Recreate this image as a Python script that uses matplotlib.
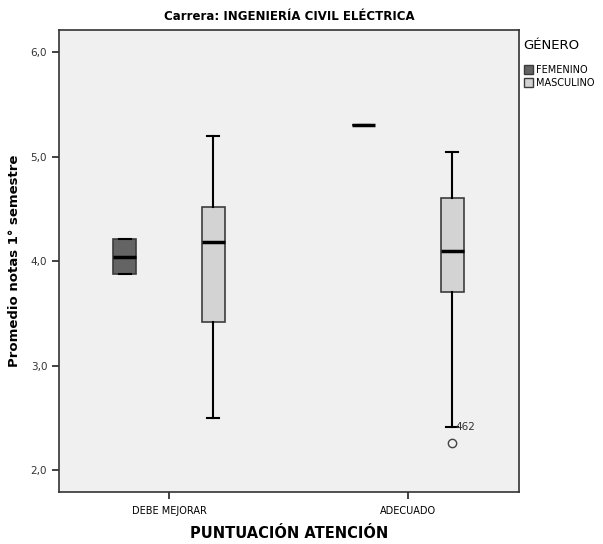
import matplotlib
matplotlib.use("Agg")
import matplotlib.pyplot as plt
from matplotlib.patches import Patch

# data
categories = ["DEBE MEJORAR", "ADECUADO"]
groups = ["FEMENINO", "MASCULINO"]

fem_whislo = [3.875, 5.30]
fem_q1 = [3.875, 5.30]
fem_med = [4.04, 5.30]
fem_q3 = [4.21, 5.30]
fem_whishi = [4.21, 5.30]
fem_fliers = [[], []]

masc_whislo = [2.50, 2.41]
masc_q1 = [3.42, 3.70]
masc_med = [4.18, 4.10]
masc_q3 = [4.52, 4.60]
masc_whishi = [5.20, 5.04]
masc_fliers = [[], [2.26]]
outlier_ids = [[], ["462"]]

colors = {"FEMENINO": "#646464", "MASCULINO": "#d3d3d3"}


def make_stats(lo, q1, med, q3, hi, fl):
    return [dict(whislo=a, q1=b, med=c, q3=d, whishi=e, fliers=f)
            for a, b, c, d, e, f in zip(lo, q1, med, q3, hi, fl)]


fig = plt.figure(figsize=(6.03, 5.44), dpi=100)
ax = fig.add_axes([0.0978, 0.0956, 0.763, 0.849])
ax.set_facecolor("#f0f0f0")

offset = 0.185
width = 0.096
series = [
    ("FEMENINO", make_stats(fem_whislo, fem_q1, fem_med, fem_q3, fem_whishi, fem_fliers), -offset),
    ("MASCULINO", make_stats(masc_whislo, masc_q1, masc_med, masc_q3, masc_whishi, masc_fliers), offset),
]
for name, stats, off in series:
    pos = [i + off for i in range(len(categories))]
    ax.bxp(stats, positions=pos, widths=width, patch_artist=True,
           capwidths=0.05, manage_ticks=False,
           boxprops=dict(facecolor=colors[name], edgecolor="#3c3c3c", linewidth=1.2),
           medianprops=dict(color="black", linewidth=2.5),
           whiskerprops=dict(color="black", linewidth=1.5),
           capprops=dict(color="black", linewidth=1.5),
           flierprops=dict(marker="o", markerfacecolor="none",
                           markeredgecolor="#444444", markersize=6))
    if name == "MASCULINO":
        for i, ids in enumerate(outlier_ids):
            for lab in ids:
                ax.text(i + off + 0.012, masc_whislo[i], lab, fontsize=7.5,
                        color="#333333", va="center", ha="left")

ax.set_xlim(-0.46, 1.464)
ax.set_ylim(1.79, 6.21)
ax.set_xticks(range(len(categories)))
ax.set_xticklabels(categories, fontsize=7)
ax.set_yticks([2, 3, 4, 5, 6])
ax.set_yticklabels(["2,0", "3,0", "4,0", "5,0", "6,0"], fontsize=7.5, color="#333333")
ax.tick_params(axis="both", direction="out", length=5, width=1.2, color="#222222")
ax.tick_params(axis="x", pad=5)
for s in ax.spines.values():
    s.set_color("#333333")
    s.set_linewidth(1.2)

ax.set_ylabel("Promedio notas 1° semestre", fontsize=9.5, fontweight="bold", labelpad=7)
ax.set_xlabel("PUNTUACIÓN ATENCIÓN", fontsize=10.5, fontweight="bold", labelpad=7)
ax.set_title("Carrera: INGENIERÍA CIVIL ELÉCTRICA", fontsize=8.5, fontweight="bold", pad=7)

handles = [Patch(facecolor=colors[g], edgecolor="#3c3c3c", label=g) for g in groups]
leg = fig.legend(handles=handles, title="GÉNERO", loc="upper left",
                 bbox_to_anchor=(0.862, 0.935), frameon=False, fontsize=7,
                 title_fontsize=9.5, handlelength=1.0, handleheight=1.0,
                 handletextpad=0.3, labelspacing=0.35, borderaxespad=0.0)
leg._legend_box.align = "left"
leg._legend_box.sep = 9

fig.savefig("out.png", dpi=100)
